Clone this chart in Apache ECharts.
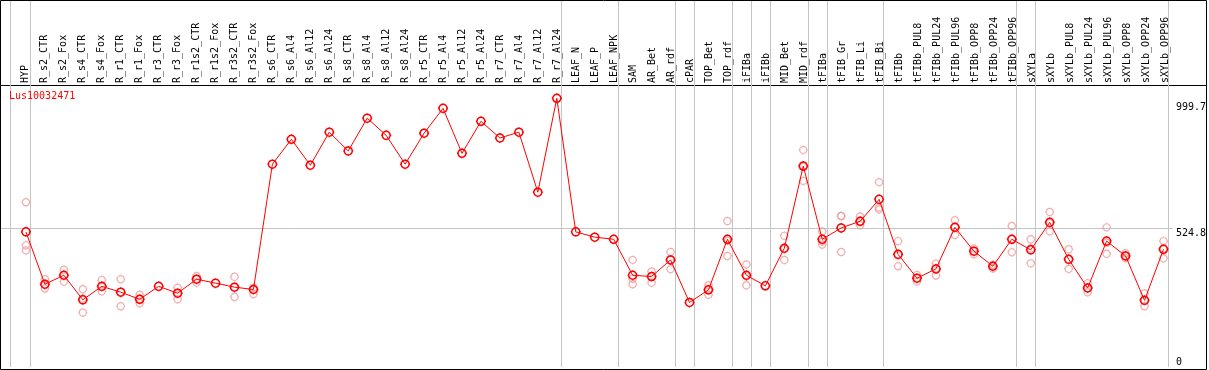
<!DOCTYPE html>
<html><head><meta charset="utf-8">
<script src="https://cdn.jsdelivr.net/npm/echarts@6/dist/echarts.min.js"></script>
<style>html,body{margin:0;padding:0;background:#fff}#c{width:1209px;height:370px}</style>
</head><body><div id="c"></div>
<script>
const chartTitle = 'Lus10032471';
const categories = ['HYP','R_s2_CTR','R_s2_Fox','R_s4_CTR','R_s4_Fox','R_r1_CTR','R_r1_Fox','R_r3_CTR','R_r3_Fox','R_r1s2_CTR','R_r1s2_Fox','R_r3s2_CTR','R_r3s2_Fox','R_s6_CTR','R_s6_Al4','R_s6_Al12','R_s6_Al24','R_s8_CTR','R_s8_Al4','R_s8_Al12','R_s8_Al24','R_r5_CTR','R_r5_Al4','R_r5_Al12','R_r5_Al24','R_r7_CTR','R_r7_Al4','R_r7_Al12','R_r7_Al24','LEAF_N','LEAF_P','LEAF_NPK','SAM','AR_Bet','AR_rdf','cPAR','TOP_Bet','TOP_rdf','iFIBa','iFIBb','MID_Bet','MID_rdf','tFIBa','tFIB_Gr','tFIB_Li','tFIB_Bi','tFIBb','tFIBb_PUL8','tFIBb_PUL24','tFIBb_PUL96','tFIBb_OPP8','tFIBb_OPP24','tFIBb_OPP96','sXYLa','sXYLb','sXYLb_PUL8','sXYLb_PUL24','sXYLb_PUL96','sXYLb_OPP8','sXYLb_OPP24','sXYLb_OPP96'];
const meanValues = [511,313,347,254,305,283,256,305,279,332,317,302,293,767,861,763,888,817,941,876,767,884,978,808,929,866,888,661,1016,511,491,483,347,342,405,244,292,483,347,307,449,760,483,526,551,634,426,336,371,528,438,381,483,443,547,407,299,476,420,252,445];
const rep1 = [623,332,368,294,329,332,273,null,300,344,null,341,300,null,null,null,null,null,null,null,null,null,null,null,null,null,null,null,null,null,null,null,405,361,435,null,309,552,388,null,496,821,512,571,569,699,476,348,391,555,448,387,533,483,586,445,317,528,430,278,476];
const rep2 = [460,297,323,206,286,230,241,null,256,319,null,265,276,null,null,null,null,null,null,null,null,null,null,null,null,null,null,null,null,null,null,null,313,319,370,null,273,420,309,null,405,704,463,435,536,603,381,323,346,499,426,372,434,392,513,371,283,428,411,230,411];
const rep3 = [441,310,347,259,303,284,256,null,279,332,null,302,293,null,null,null,null,null,null,null,null,null,null,null,null,null,null,null,null,null,null,null,334,342,405,null,292,477,343,null,446,757,474,571,549,596,423,336,373,528,438,381,483,448,544,407,299,470,420,252,448];
const upperTickLabels = [999.7, 524.8];
const lowerTickLabels = [0];
const referenceLine = 524.8;
const groupEnds = ['HYP','R_r7_Al24','LEAF_NPK','AR_rdf','cPAR','TOP_rdf','iFIBa','iFIBb','MID_rdf','tFIBa','tFIB_Bi','tFIBb_OPP96','sXYLa','sXYLb_OPP96'];

const FONT = 'DejaVu Sans Mono';
const STEP = 19, FIRST = 26, GL = 1, GR = 1207;
const xMin = (GL - FIRST) / STEP, xMax = (GR - FIRST) / STEP;
const yMax = 1384;
const sym = 'path://M9,5C9,7.209,7.209,9,5,9C2.791,9,1,7.209,1,5C1,2.791,2.791,1,5,1C7.209,1,9,2.791,9,5Z M5,0L5,1 M5,9L5,10 M0,5L1,5 M9,5L10,5';

const repData = [];
[rep1, rep2, rep3].forEach(r => r.forEach((v, i) => { if (v != null) repData.push([i, v]); }));

const vLines = [{ xAxis: -15.5 / STEP }].concat(groupEnds.map(n => ({ xAxis: categories.indexOf(n) + 4.5 / STEP })));
const hLine = [[{ coord: [xMin, referenceLine] }, { coord: [(1175 - FIRST) / STEP, referenceLine] }]];

const chart = echarts.init(document.getElementById('c'), null, { renderer: 'canvas' });
const yLab = (vals, va) => ({
  customValues: vals, inside: true, align: 'left', verticalAlign: va, margin: 28.5,
  fontFamily: FONT, fontSize: 10, color: '#000',
  formatter: v => (v === 0 ? '0' : Number(v).toFixed(1))
});
chart.setOption({
  animation: false,
  backgroundColor: '#fff',
  title: { text: chartTitle, left: 9, top: 91, padding: 0,
    textStyle: { color: '#ff0000', fontSize: 10, fontFamily: FONT, fontWeight: 'normal' } },
  grid: [
    { left: 0.5, top: 0.5, right: 2.5, height: 85, show: true, borderColor: '#000', borderWidth: 1, backgroundColor: 'transparent' },
    { left: 0.5, top: 85.5, right: 2.5, bottom: 0.5, show: true, borderColor: '#000', borderWidth: 1, backgroundColor: 'transparent' },
    { left: GL, right: 1209 - GR, top: 1, bottom: 3 },
    { left: FIRST - STEP / 2 - 1, width: STEP * categories.length, top: 85, height: 10 }
  ],
  xAxis: [
    { gridIndex: 0, type: 'value', show: false },
    { gridIndex: 1, type: 'value', show: false },
    { gridIndex: 2, type: 'value', min: xMin, max: xMax, show: false },
    { gridIndex: 3, type: 'category', data: categories, position: 'top',
      axisLine: { show: false }, axisTick: { show: false }, splitLine: { show: false },
      axisLabel: { interval: 0, rotate: 90, margin: 2, fontFamily: FONT, fontSize: 10, color: '#000' } }
  ],
  yAxis: [
    { gridIndex: 0, type: 'value', show: false },
    { gridIndex: 1, type: 'value', show: false },
    { gridIndex: 2, type: 'value', min: 0, max: yMax, position: 'right',
      axisLine: { show: false }, axisTick: { show: false }, splitLine: { show: false },
      axisLabel: yLab(upperTickLabels, 'top') },
    { gridIndex: 2, type: 'value', min: 0, max: yMax, position: 'right',
      axisLine: { show: false }, axisTick: { show: false }, splitLine: { show: false },
      axisLabel: yLab(lowerTickLabels, 'bottom') },
    { gridIndex: 3, type: 'value', show: false }
  ],
  series: [
    { type: 'line', xAxisIndex: 2, yAxisIndex: 2, data: [], silent: true,
      markLine: { silent: true, z: 1, symbol: ['none', 'none'], label: { show: false },
        lineStyle: { color: '#c4c4c4', width: 1, type: 'solid' },
        emphasis: { disabled: true },
        data: vLines.concat(hLine) } },
    { type: 'scatter', xAxisIndex: 2, yAxisIndex: 2, data: repData, z: 2, silent: true,
      symbol: sym, symbolSize: 9,
      itemStyle: { color: 'rgba(0,0,0,0)', borderColor: '#ef9a9a', borderWidth: 1.2 } },
    { type: 'line', xAxisIndex: 2, yAxisIndex: 2, data: meanValues.map((v, i) => [i, v]), z: 3, silent: true,
      symbol: sym, symbolSize: 10, showAllSymbol: true,
      lineStyle: { color: '#ff0000', width: 1 },
      itemStyle: { color: 'rgba(0,0,0,0)', borderColor: '#ff0000', borderWidth: 1.5 } }
  ]
});
</script>
</body></html>
